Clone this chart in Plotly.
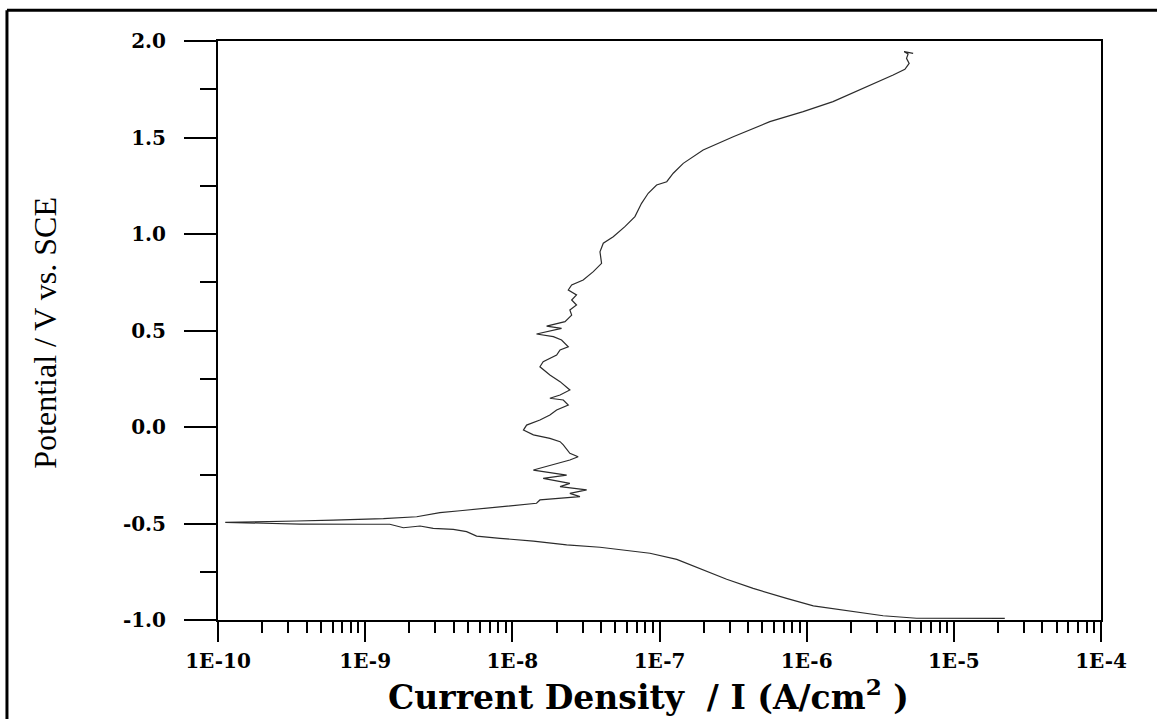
import plotly.graph_objects as go

# Cathodic branch (from high current at -1.0 V toward Ecorr)
cath_current = [2.22e-5, 1.10e-5, 5.58e-6, 3.31e-6, 1.87e-6, 1.11e-6, 7.30e-7, 4.33e-7, 2.86e-7,
                1.88e-7, 1.31e-7, 8.61e-8, 5.38e-8, 3.94e-8, 2.34e-8, 1.39e-8, 8.24e-9, 5.72e-9,
                4.89e-9, 3.97e-9, 2.90e-9, 2.36e-9, 1.82e-9, 1.47e-9, 1.02e-9, 3.61e-10, 1.12e-10]
cath_potential = [-0.992, -0.991, -0.991, -0.978, -0.952, -0.927, -0.888, -0.836, -0.789,
                  -0.732, -0.686, -0.654, -0.634, -0.623, -0.611, -0.591, -0.577, -0.565,
                  -0.542, -0.530, -0.525, -0.513, -0.522, -0.504, -0.504, -0.503, -0.494]

# Anodic branch (from Ecorr up to 2.0 V)
anod_current = [2.14e-10, 3.42e-10, 6.07e-10, 1.33e-9, 2.24e-9, 3.22e-9, 4.41e-9, 8.24e-9, 1.13e-8,
                1.46e-8, 1.54e-8, 2.88e-8, 2.46e-8, 3.20e-8, 2.11e-8, 2.46e-8, 1.62e-8, 2.34e-8,
                1.39e-8, 2.00e-8, 2.46e-8, 2.80e-8, 2.46e-8, 2.22e-8, 2.11e-8, 1.80e-8, 1.39e-8,
                1.19e-8, 1.25e-8, 1.54e-8, 1.80e-8, 2.00e-8, 2.40e-8, 2.22e-8, 1.80e-8, 2.11e-8,
                2.46e-8, 2.11e-8, 1.80e-8, 1.54e-8, 1.62e-8, 2.00e-8, 2.11e-8, 2.40e-8, 2.16e-8,
                1.90e-8, 1.46e-8, 2.16e-8, 1.71e-8, 2.28e-8, 2.53e-8, 2.46e-8, 2.73e-8, 2.53e-8,
                2.73e-8, 2.40e-8, 2.53e-8, 3.03e-8, 3.55e-8, 4.04e-8, 3.94e-8, 4.15e-8, 4.85e-8,
                5.82e-8, 6.81e-8, 7.55e-8, 8.38e-8, 9.56e-8, 1.12e-7, 1.24e-7, 1.45e-7, 1.98e-7,
                3.17e-7, 5.62e-7, 9.47e-7, 1.51e-6, 2.30e-6, 3.87e-6, 4.65e-6, 4.97e-6, 4.77e-6,
                4.89e-6, 4.60e-6, 5.29e-6]
anod_potential = [-0.492, -0.487, -0.482, -0.475, -0.465, -0.444, -0.434, -0.413, -0.404,
                  -0.395, -0.378, -0.361, -0.344, -0.326, -0.309, -0.292, -0.266, -0.249,
                  -0.223, -0.188, -0.171, -0.154, -0.136, -0.093, -0.076, -0.059, -0.041,
                  -0.016, 0.010, 0.036, 0.062, 0.088, 0.114, 0.140, 0.149, 0.166,
                  0.192, 0.235, 0.269, 0.312, 0.338, 0.373, 0.399, 0.416, 0.451,
                  0.468, 0.482, 0.511, 0.523, 0.546, 0.580, 0.606, 0.632, 0.658,
                  0.684, 0.710, 0.736, 0.762, 0.805, 0.848, 0.908, 0.952, 0.986,
                  1.038, 1.090, 1.159, 1.211, 1.254, 1.271, 1.315, 1.366, 1.435,
                  1.504, 1.582, 1.634, 1.686, 1.746, 1.824, 1.853, 1.884, 1.910,
                  1.933, 1.945, 1.936]

x_tickvals = [1e-10, 1e-9, 1e-8, 1e-7, 1e-6, 1e-5, 1e-4]
x_ticktext = ["1E-10", "1E-9", "1E-8", "1E-7", "1E-6", "1E-5", "1E-4"]
y_tickvals = [-1.0, -0.5, 0.0, 0.5, 1.0, 1.5, 2.0]
y_ticktext = ["-1.0", "-0.5", "0.0", "0.5", "1.0", "1.5", "2.0"]

x_title = "Current Density\u00a0 / I (A/cm<sup>2</sup> )"
y_title = "Potential / V vs. SCE"

current = cath_current + anod_current
potential = cath_potential + anod_potential

fig = go.Figure()
fig.add_trace(go.Scatter(x=current, y=potential, mode="lines",
                         line=dict(color="#2b2b2b", width=1.2), showlegend=False))

tick_font = dict(family="DejaVu Serif", size=20, color="black", weight="bold")

fig.update_xaxes(type="log", range=[-10, -4], tickmode="array", tickvals=x_tickvals,
                 ticktext=x_ticktext, ticks="outside", ticklen=20, tickwidth=2,
                 tickcolor="black", showline=True, linewidth=2, linecolor="black",
                 mirror=True, showgrid=False, zeroline=False, tickfont=tick_font,
                 ticklabelstandoff=2,
                 minor=dict(dtick="D1", ticks="outside", ticklen=11, tickwidth=1.5,
                            tickcolor="black", showgrid=False))
fig.update_yaxes(range=[-1.0, 2.0], tickmode="array", tickvals=y_tickvals,
                 ticktext=y_ticktext, ticks="outside", ticklen=32, tickwidth=2,
                 tickcolor="black", showline=True, linewidth=2, linecolor="black",
                 mirror=True, showgrid=False, zeroline=False, tickfont=tick_font,
                 ticklabelstandoff=14,
                 minor=dict(tickmode="linear", tick0=0, dtick=0.25, ticks="outside",
                            ticklen=16, tickwidth=1.5, tickcolor="black", showgrid=False))

fig.add_annotation(text=y_title, xref="paper", yref="paper", x=-0.196, y=0.496,
                   xanchor="center", yanchor="middle", textangle=-90, showarrow=False,
                   font=dict(family="Liberation Serif", size=32, color="black"))
fig.add_annotation(text=x_title, xref="paper", yref="paper", x=0.487, y=-0.1295,
                   xanchor="center", yanchor="middle", showarrow=False,
                   font=dict(family="DejaVu Serif", size=33, color="black", weight="bold"))

# outer frame (left and top edges visible in the picture)
fig.add_shape(type="line", xref="paper", yref="paper", x0=-0.239, x1=-0.239, y0=-0.2, y1=1.053,
              line=dict(color="black", width=3))
fig.add_shape(type="line", xref="paper", yref="paper", x0=-0.239, x1=1.1, y0=1.053, y1=1.053,
              line=dict(color="black", width=3))

fig.update_layout(width=1157, height=719, margin=dict(l=218, r=56, t=41, b=99),
                  paper_bgcolor="white", plot_bgcolor="white")

# remove the default 8px page margin so the figure fills the window exactly
fig.write_html("out.html", config={"displayModeBar": False},
               post_script="document.body.style.margin='0';")
